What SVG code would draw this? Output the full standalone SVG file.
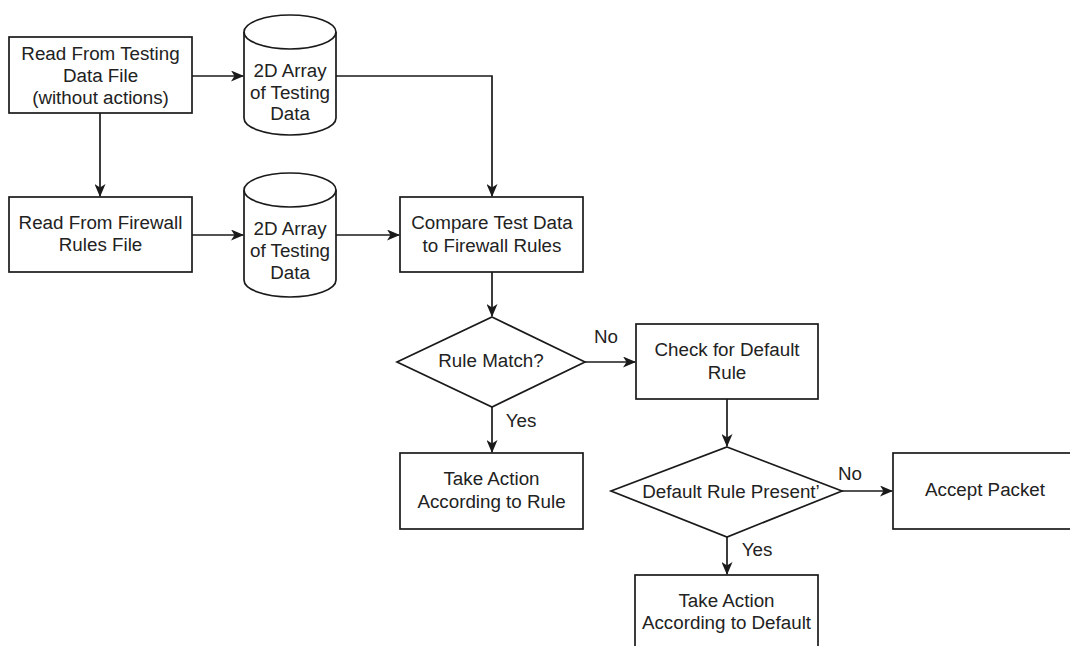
<svg xmlns="http://www.w3.org/2000/svg" width="1070" height="646" viewBox="0 0 1070 646">
  <style>
    .shape { fill: #ffffff; stroke: #1a1a1a; stroke-width: 1.7; }
    .edge { fill: none; stroke: #1a1a1a; stroke-width: 1.7; }
    text { font-family: "Liberation Sans", Arial, sans-serif; font-size: 18.8px; fill: #222222; text-anchor: middle; }
  </style>
  <defs>
    <marker id="arrow" viewBox="0 0 13 11" refX="12" refY="5.5" markerWidth="13" markerHeight="11" markerUnits="userSpaceOnUse" orient="auto">
      <path d="M0,0 L13,5.5 L0,11 L3.5,5.5 Z" fill="#1a1a1a"/>
    </marker>
  </defs>

  <rect width="1070" height="646" fill="#ffffff"/>

  <!-- connectors -->
  <g id="connectors">
    <path class="edge" d="M100,113 V196" marker-end="url(#arrow)"/>
    <path class="edge" d="M192,76 H243" marker-end="url(#arrow)"/>
    <path class="edge" d="M336,76 H492 V196" marker-end="url(#arrow)"/>
    <path class="edge" d="M192,235 H243" marker-end="url(#arrow)"/>
    <path class="edge" d="M336,235 H399" marker-end="url(#arrow)"/>
    <path class="edge" d="M492,272 V316" marker-end="url(#arrow)"/>
    <path class="edge" d="M585,362 H635" marker-end="url(#arrow)"/>
    <path class="edge" d="M492,407 V452" marker-end="url(#arrow)"/>
    <path class="edge" d="M727,399 V446" marker-end="url(#arrow)"/>
    <path class="edge" d="M842,491 H892" marker-end="url(#arrow)"/>
    <path class="edge" d="M727,537 V574" marker-end="url(#arrow)"/>
    <text x="606" y="343">No</text>
    <text x="521" y="427">Yes</text>
    <text x="850" y="480">No</text>
    <text x="757" y="556">Yes</text>
  </g>

  <g id="read-testing">
    <rect class="shape" x="9" y="37" width="183" height="76"/>
    <text x="100.5" y="59.5">Read From Testing</text>
    <text x="100.5" y="81.5">Data File</text>
    <text x="100.5" y="103.5">(without actions)</text>
  </g>

  <g id="testing-array-1">
    <path class="shape" d="M244,32 A46,17 0 0 1 336,32 V118 A46,17 0 0 1 244,118 Z"/>
    <path class="edge" d="M244,32 A46,17 0 0 0 336,32"/>
    <text x="290" y="77">2D Array</text>
    <text x="290" y="98.5">of Testing</text>
    <text x="290" y="120">Data</text>
  </g>

  <g id="read-firewall">
    <rect class="shape" x="9" y="197" width="183" height="75"/>
    <text x="100.5" y="228.5">Read From Firewall</text>
    <text x="100.5" y="250.5">Rules File</text>
  </g>

  <g id="testing-array-2">
    <path class="shape" d="M244,190 A46,17 0 0 1 336,190 V280 A46,17 0 0 1 244,280 Z"/>
    <path class="edge" d="M244,190 A46,17 0 0 0 336,190"/>
    <text x="290" y="234.5">2D Array</text>
    <text x="290" y="256.5">of Testing</text>
    <text x="290" y="278.5">Data</text>
  </g>

  <g id="compare">
    <rect class="shape" x="400" y="197" width="183" height="75"/>
    <text x="492" y="228.5">Compare Test Data</text>
    <text x="492" y="251.5">to Firewall Rules</text>
  </g>

  <g id="rule-match">
    <polygon class="shape" points="492,317 585,362 492,407 397,362"/>
    <text x="491" y="366.5">Rule Match?</text>
  </g>

  <g id="check-default">
    <rect class="shape" x="636" y="324" width="182" height="75"/>
    <text x="727" y="355.5">Check for Default</text>
    <text x="727" y="378.5">Rule</text>
  </g>

  <g id="take-action-rule">
    <rect class="shape" x="400" y="453" width="183" height="76"/>
    <text x="491.5" y="484.5">Take Action</text>
    <text x="491.5" y="507.5">According to Rule</text>
  </g>

  <g id="default-present">
    <polygon class="shape" points="727,447 842,491 727,537 611,491"/>
    <text x="731" y="497.5">Default Rule Present’</text>
  </g>

  <g id="accept-packet">
    <rect class="shape" x="893" y="453" width="190" height="76"/>
    <text x="985" y="495.5">Accept Packet</text>
  </g>

  <g id="take-action-default">
    <rect class="shape" x="635" y="575" width="183" height="80"/>
    <text x="726.5" y="606.5">Take Action</text>
    <text x="726.5" y="628.5">According to Default</text>
  </g>
</svg>
